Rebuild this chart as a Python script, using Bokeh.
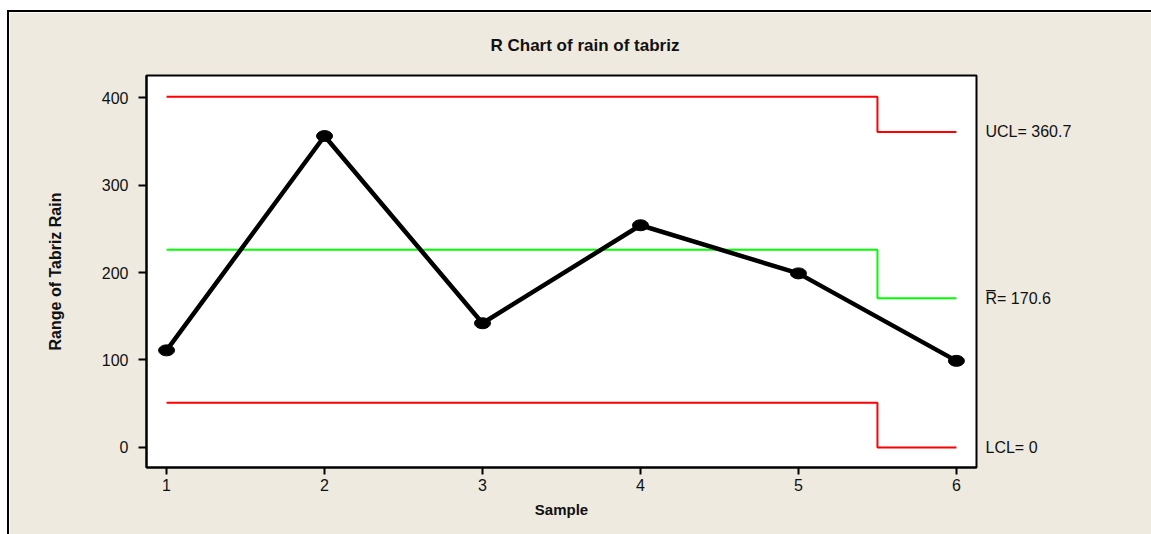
from bokeh.plotting import figure
from bokeh.models import Range1d, FixedTicker, LinearAxis, Title
from bokeh.embed import file_html
from bokeh.resources import INLINE

samples = [1, 2, 3, 4, 5, 6]
ranges = [111, 356, 142, 254, 199, 99]
ucl = [401, 401, 401, 401, 401, 360.7]
center = [226, 226, 226, 226, 226, 170.6]
lcl = [51, 51, 51, 51, 51, 0]
y_ticks = [0, 100, 200, 300, 400]
title_text = "R Chart of rain of tabriz"
x_label = "Sample"
y_label = "Range of Tabriz Rain"
limit_labels = ["UCL= 360.7", "R\u0305= 170.6", "LCL= 0"]
limit_values = [ucl[-1], center[-1], lcl[-1]]

BG = "#EEEAE0"
FONT = "Liberation Sans"
TXT = "#111111"

p = figure(width=1144, height=524, output_backend="svg", toolbar_location=None,
           x_range=Range1d(0.873, 6.127), y_range=Range1d(-22.9, 425.2),
           min_border_left=137, min_border_right=177, min_border_top=62, min_border_bottom=69,
           background_fill_color="white", border_fill_color=BG,
           styles={"margin-left": "7px", "margin-top": "10px",
                   "border-top": "2px solid black", "border-left": "2px solid black"})

p.title.visible = False
p.xgrid.visible = False
p.ygrid.visible = False
p.outline_line_color = "black"
p.outline_line_width = 2

for ax in (p.xaxis[0], p.yaxis[0]):
    ax.axis_line_color = "black"
    ax.axis_line_width = 2
    ax.major_tick_line_color = "black"
    ax.major_tick_line_width = 2
    ax.major_tick_in = 0
    ax.minor_tick_line_color = None
    ax.major_label_text_font = FONT
    ax.major_label_text_font_size = "16px"
    ax.major_label_text_color = TXT
    ax.axis_label_text_font = FONT
    ax.axis_label_text_font_style = "bold"
    ax.axis_label_text_font_size = "15px"
    ax.axis_label_text_color = TXT

p.xaxis[0].ticker = FixedTicker(ticks=samples)
p.xaxis[0].major_tick_out = 7
p.xaxis[0].major_label_standoff = 4
p.xaxis[0].axis_label = x_label
p.xaxis[0].axis_label_standoff = 7

p.yaxis[0].ticker = FixedTicker(ticks=y_ticks)
p.yaxis[0].major_tick_out = 8
p.yaxis[0].major_label_standoff = 10
p.yaxis[0].axis_label = y_label
p.yaxis[0].axis_label_standoff = 35
p.yaxis[0].axis_label_text_font_size = "16px"

# right-hand limit labels, drawn as an axis on the right
right = LinearAxis(ticker=FixedTicker(ticks=limit_values),
                   major_label_overrides={v: t for v, t in zip(limit_values, limit_labels)},
                   axis_line_color=None, major_tick_line_color=None, minor_tick_line_color=None,
                   major_tick_out=0, major_tick_in=0, major_label_standoff=9,
                   major_label_text_font=FONT, major_label_text_font_size="16px",
                   major_label_text_color=TXT)
p.add_layout(right, "right")

p.add_layout(Title(text=title_text, align="left", offset=344, standoff=42,
                   text_font=FONT, text_font_style="bold", text_font_size="17px",
                   text_color=TXT), "above")

p.step(samples, ucl, mode="center", line_color="#FF0000", line_width=2)
p.step(samples, center, mode="center", line_color="#00FF00", line_width=2)
p.step(samples, lcl, mode="center", line_color="#FF0000", line_width=2)

p.line(samples, ranges, line_color="black", line_width=4.5)
p.ellipse(samples, ranges, width=16, height=11, width_units="screen", height_units="screen",
          fill_color="black", line_color="black")

open("out.html", "w").write(file_html(p, INLINE))
